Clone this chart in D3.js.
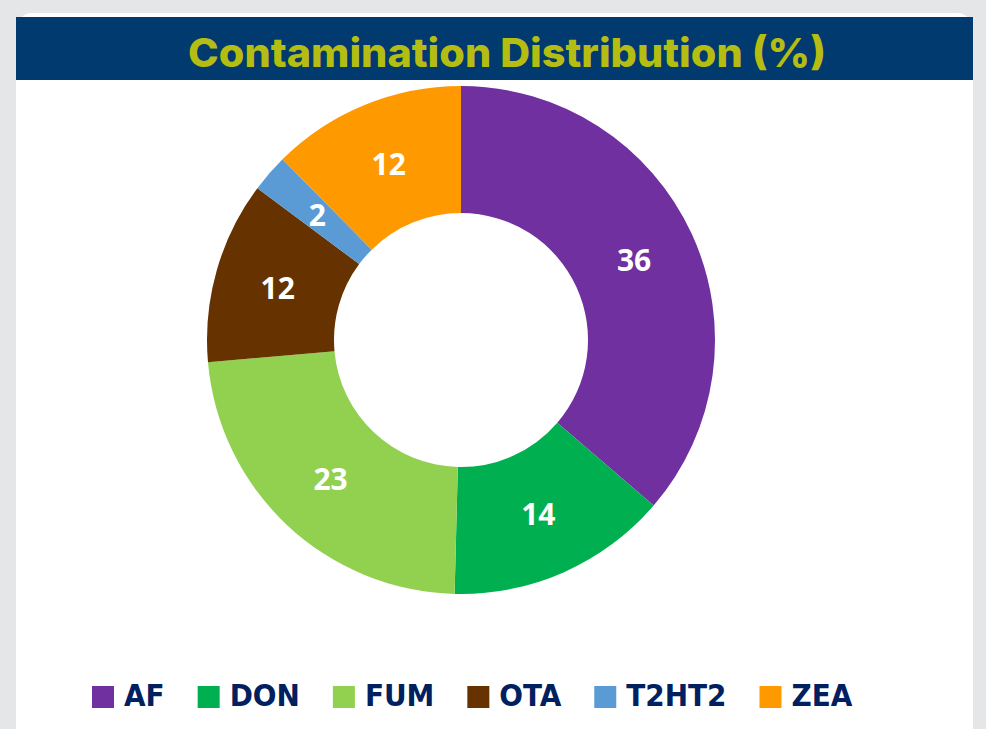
<!DOCTYPE html>
<html>
<head>
<meta charset="utf-8">
<script src="https://cdn.jsdelivr.net/npm/d3@7"></script>
<style>
  body { margin: 0; background: #e5e6e8; }
  svg { display: block; }
</style>
</head>
<body>
<div id="chart"></div>
<script>
// data
const categories = ["AF", "DON", "FUM", "OTA", "T2HT2", "ZEA"];
const values = [36.3, 14.1, 23.2, 11.6, 2.4, 12.4];
const colors = ["#7030a0", "#00b050", "#92d050", "#663300", "#5b9bd5", "#ff9900"];
const title = "Contamination Distribution (%)";

const svg = d3.select("#chart")
    .append("svg")
    .attr("width", 986)
    .attr("height", 729);

// card + header band
svg.append("rect").attr("x", 16).attr("y", 13).attr("width", 957).attr("height", 730)
    .attr("rx", 16).style("fill", "#ffffff");
svg.append("rect").attr("x", 16).attr("y", 17).attr("width", 957).attr("height", 63)
    .style("fill", "#003a6e");
svg.append("text").attr("x", 507).attr("y", 67).attr("text-anchor", "middle")
    .attr("textLength", 638).attr("lengthAdjust", "spacingAndGlyphs")
    .style("font-family", "Inter, 'Open Sans', sans-serif").style("font-weight", 800)
    .style("font-size", "40px").style("fill", "#b6bd12")
    .text(title);

// donut
const cx = 461, cy = 340, R = 254, r = 127;
const g = svg.append("g").attr("transform", `translate(${cx}, ${cy})`);

const pie = d3.pie().sort(null).value(d => d)(values);
const arc = d3.arc().innerRadius(r).outerRadius(R);
const labelArc = d3.arc().innerRadius((R + r) / 2).outerRadius((R + r) / 2);

g.selectAll("path")
    .data(pie)
    .join("path")
    .attr("d", arc)
    .style("fill", (d, i) => colors[i]);

g.selectAll("text.lbl")
    .data(pie)
    .join("text")
    .attr("class", "lbl")
    .attr("transform", d => `translate(${labelArc.centroid(d)})`)
    .attr("text-anchor", "middle")
    .attr("dy", "0.36em")
    .style("font-family", "Open Sans, 'Noto Sans', sans-serif")
    .style("font-weight", 700)
    .style("font-size", "30px")
    .style("fill", "#ffffff")
    .text(d => d3.format(".0f")(d.data));

// legend
const legend = svg.append("g").attr("transform", "translate(92, 706)");
let lx = 0;
categories.forEach(function (c, i) {
    legend.append("rect").attr("x", lx).attr("y", -20).attr("width", 22).attr("height", 22)
        .style("fill", colors[i]);
    const t = legend.append("text").attr("x", lx + 32).attr("y", 0)
        .style("font-family", "'DejaVu Sans Condensed', 'DejaVu Sans', sans-serif")
        .style("font-weight", 700)
        .style("font-size", "31px")
        .style("fill", "#002060")
        .text(c);
    lx += 32 + t.node().getComputedTextLength() + 33;
});
</script>
</body>
</html>
